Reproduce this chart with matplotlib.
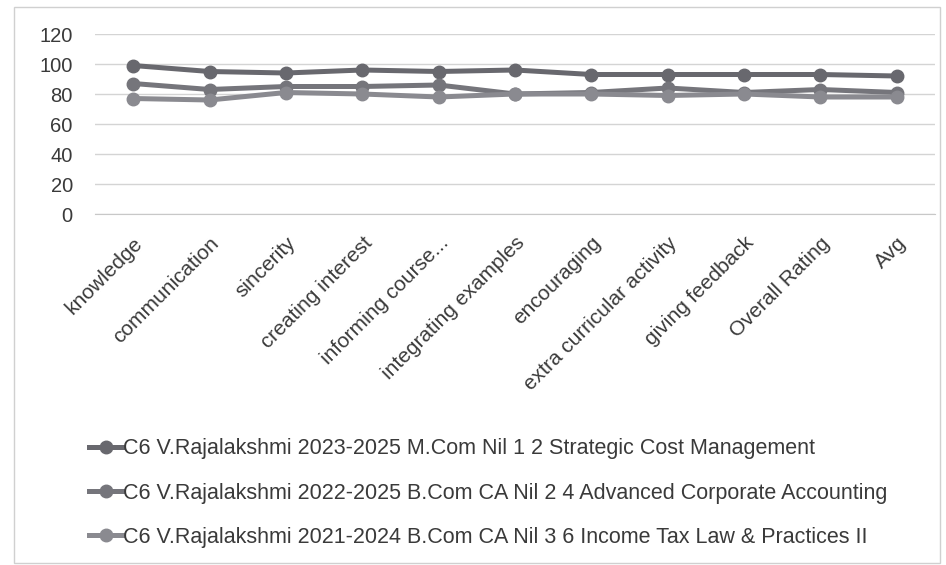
import matplotlib.pyplot as plt
from matplotlib.patches import Rectangle

categories = ["knowledge", "communication", "sincerity", "creating interest",
              "informing course...", "integrating examples", "encouraging",
              "extra curricular activity", "giving feedback", "Overall Rating", "Avg"]

series_names = [
    "C6 V.Rajalakshmi 2023-2025 M.Com Nil 1 2 Strategic Cost Management",
    "C6 V.Rajalakshmi 2022-2025 B.Com CA Nil 2 4 Advanced Corporate Accounting",
    "C6 V.Rajalakshmi 2021-2024 B.Com CA Nil 3 6 Income Tax Law & Practices II",
]
s1 = [99, 95, 94, 96, 95, 96, 93, 93, 93, 93, 92]
s2 = [87, 83, 85, 85, 86, 80, 81, 84, 81, 83, 81]
s3 = [77, 76, 81, 80, 78, 80, 80, 79, 80, 78, 78]
yticks = [0, 20, 40, 60, 80, 100, 120]

colors = ["#68686e", "#75757b", "#8a8a90"]
text_color = "#3a3a3a"

plt.rcParams['font.family'] = ['Liberation Sans', 'DejaVu Sans']

W, H = 946, 565
fig = plt.figure(figsize=(W / 100, H / 100), dpi=100)
ax = fig.add_axes([95 / W, 1 - 214 / H, (935 - 95) / W, (214 - 34) / H])

x = list(range(len(categories)))
lines = []
for vals, c, name in zip([s1, s2, s3], colors, series_names):
    ln, = ax.plot(x, vals, color=c, lw=3.6, marker="o", markersize=9,
                  markerfacecolor=c, markeredgecolor=c, label=name)
    lines.append(ln)

ax.set_xlim(-0.5, len(categories) - 0.5)
ax.set_ylim(0, 120)
ax.set_yticks(yticks)
ax.set_yticklabels([str(t) for t in yticks], fontsize=14.5, color=text_color)
ax.set_xticks(x)
ax.set_xticklabels(categories, rotation=45, ha="right", va="top",
                   rotation_mode="anchor", fontsize=15, color=text_color)
ax.tick_params(axis="y", length=0, pad=16)
ax.tick_params(axis="x", length=0, pad=14)
ax.grid(axis="y", color="#d4d4d4", lw=1)
ax.set_axisbelow(True)
for s in ["top", "right", "left"]:
    ax.spines[s].set_visible(False)
ax.spines["bottom"].set_color("#c8c8c8")

# legend below the category labels
fig.legend(handles=lines, loc="upper left", bbox_to_anchor=(70 / W, 1 - 419 / H),
           frameon=False, fontsize=15.5, handlelength=1.5, handletextpad=0.05,
           labelspacing=1.08, labelcolor=text_color)

fig.patches.append(Rectangle((14 / W, 2 / H), (940 - 14) / W, (558 - 2) / H,
                             transform=fig.transFigure, fill=False,
                             edgecolor="#d0d0d0", lw=1))

fig.savefig("out.png", dpi=100, facecolor="white")
